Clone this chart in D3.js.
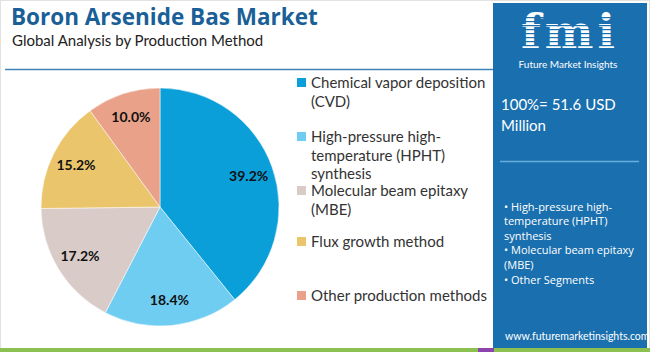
<!DOCTYPE html>
<html>
<head>
<meta charset="utf-8">
<title>Boron Arsenide Bas Market</title>
<script src="https://d3js.org/d3.v7.min.js"></script>
<style>
  body { margin: 0; background: #fff; }
  svg { display: block; font-family: "Open Sans", sans-serif; }
</style>
</head>
<body>
<svg id="chart" width="650" height="352"></svg>
<script>
// data
const methods = ["Chemical vapor deposition (CVD)", "High-pressure high-temperature (HPHT) synthesis",
  "Molecular beam epitaxy (MBE)", "Flux growth method", "Other production methods"];
const shares = [39.2, 18.4, 17.2, 15.2, 10.0];
const colors = ["#0a9fd8", "#6fcdf2", "#d9ccc8", "#ebc56c", "#e9a189"];
const legendLines = [
  ["Chemical vapor deposition", "(CVD)"],
  ["High-pressure high-", "temperature (HPHT)", "synthesis"],
  ["Molecular beam epitaxy", "(MBE)"],
  ["Flux growth method"],
  ["Other production methods"]
];
const legendY = [88, 142, 196, 247, 301];
const sideBullets = [["• High-pressure high-", "temperature (HPHT)", "synthesis"],
  ["• Molecular beam epitaxy", "(MBE)"], ["• Other Segments"]];

const svg = d3.select("#chart");

// frame
svg.append("rect").attr("x", 0.5).attr("y", 0.5).attr("width", 649).attr("height", 351)
  .attr("fill", "none").attr("stroke", "#e2e2e2");
svg.append("rect").attr("x", 0).attr("y", 348).attr("width", 650).attr("height", 4).attr("fill", "#8cc152");
svg.append("rect").attr("x", 478).attr("y", 348).attr("width", 16).attr("height", 4).attr("fill", "#8e44ad");

// header
svg.append("text").attr("x", 11).attr("y", 25).attr("font-size", 22.5).attr("font-weight", 700)
  .attr("fill", "#1a5f97").attr("font-family", "Open Sans, sans-serif")
  .text("Boron Arsenide Bas Market");
svg.append("text").attr("x", 12).attr("y", 46).attr("font-size", 15).attr("fill", "#222")
  .attr("font-family", "Lato, sans-serif")
  .text("Global Analysis by Production Method");
svg.append("line").attr("x1", 5).attr("x2", 493).attr("y1", 69.5).attr("y2", 69.5)
  .attr("stroke", "#3f85b8").attr("stroke-width", 1.5);

// pie
const R = 119;
const g = svg.append("g").attr("transform", "translate(160,207)");
const pie = d3.pie().sort(null).value(d => d);
const arc = d3.arc().innerRadius(0).outerRadius(R);
const labelArc = d3.arc().innerRadius(R * 0.79).outerRadius(R * 0.79);
const arcs = pie(shares);
g.selectAll("path").data(arcs).join("path")
  .attr("d", arc).attr("fill", (d, i) => colors[i]).attr("stroke", "#fff").attr("stroke-width", 0.5);
g.selectAll("text").data(arcs).join("text")
  .attr("transform", d => `translate(${labelArc.centroid(d)})`)
  .attr("text-anchor", "middle").attr("dy", "0.35em")
  .attr("font-size", 14).attr("font-weight", 700).attr("fill", "#111")
  .attr("font-family", "Lato, sans-serif")
  .text(d => d.data.toFixed(1) + "%");

// legend
const lg = svg.append("g");
legendLines.forEach((lines, i) => {
  lg.append("rect").attr("x", 297).attr("y", legendY[i] - 10).attr("width", 9).attr("height", 9)
    .attr("fill", colors[i]);
  lines.forEach((t, j) => {
    lg.append("text").attr("x", 311).attr("y", legendY[i] + j * 18.5).attr("font-size", 15)
      .attr("fill", "#333").attr("font-family", "Lato, sans-serif").text(t);
  });
});

// side panel
svg.append("rect").attr("x", 493).attr("y", 3).attr("width", 154).attr("height", 345).attr("fill", "#1a6fae");
const logo = svg.append("g");
logo.append("text").attr("x", 570).attr("y", 48).attr("text-anchor", "middle")
  .attr("font-size", 46).attr("font-weight", 700).attr("fill", "#fff")
  .attr("font-family", "DejaVu Serif, serif").style("letter-spacing", "4px").text("fmi");
for (let y = 17; y < 50; y += 4) {
  logo.append("rect").attr("x", 510).attr("y", y).attr("width", 120).attr("height", 1.2).attr("fill", "#1a6fae");
}
logo.append("text").attr("x", 568).attr("y", 68).attr("text-anchor", "middle")
  .attr("font-size", 10).attr("fill", "#fff").attr("font-family", "Lato, sans-serif")
  .text("Future Market Insights");

svg.append("text").attr("x", 501).attr("y", 110).attr("font-size", 15).attr("fill", "#fff")
  .attr("font-family", "Lato, sans-serif").text("100%= 51.6 USD");
svg.append("text").attr("x", 501).attr("y", 131).attr("font-size", 15).attr("fill", "#fff")
  .attr("font-family", "Lato, sans-serif").text("Million");
svg.append("line").attr("x1", 500).attr("x2", 639).attr("y1", 161.5).attr("y2", 161.5)
  .attr("stroke", "#6aaee0").attr("stroke-width", 1.5);

let by = 211;
sideBullets.forEach(lines => {
  lines.forEach(t => {
    svg.append("text").attr("x", 504).attr("y", by).attr("font-size", 11)
      .attr("fill", "#fff").attr("font-family", "Open Sans, sans-serif").text(t);
    by += 14.3;
  });
  by += 0.5;
});
svg.append("text").attr("x", 505).attr("y", 340).attr("font-size", 10.5).attr("fill", "#fff")
  .attr("font-family", "Lato, sans-serif").text("www.futuremarketinsights.com");
</script>
</body>
</html>
